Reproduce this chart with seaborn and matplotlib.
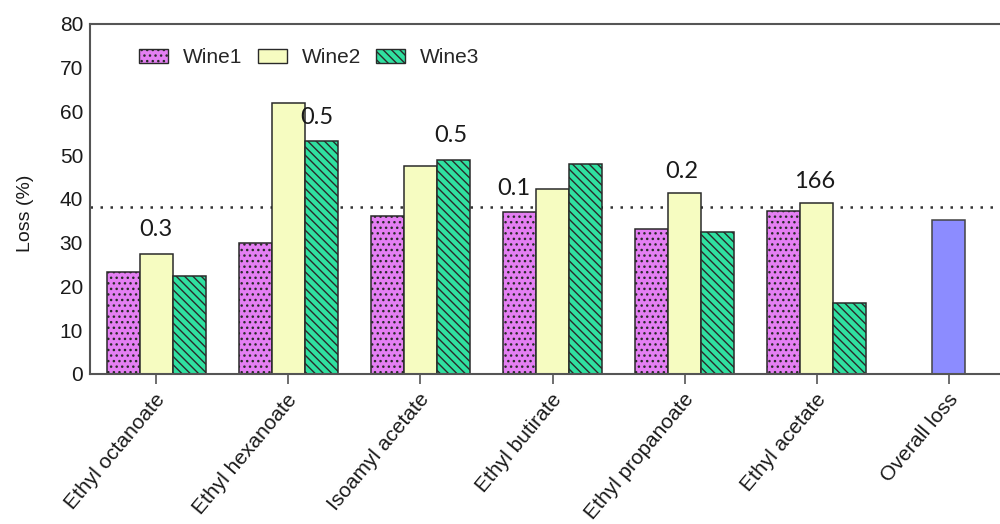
import matplotlib
matplotlib.use("Agg")
import matplotlib.pyplot as plt
import matplotlib.transforms as mtransforms
from matplotlib.patches import Patch
import numpy as np
import pandas as pd
import seaborn as sns

# Compounds and per-wine losses (%)
compounds = ["Ethyl octanoate", "Ethyl hexanoate", "Isoamyl acetate",
             "Ethyl butirate", "Ethyl propanoate", "Ethyl acetate"]
overall_label = "Overall loss"
wine1 = [23.4, 30.0, 36.0, 37.0, 33.1, 37.3]
wine2 = [27.4, 61.9, 47.6, 42.2, 41.4, 39.0]
wine3 = [22.3, 53.2, 48.9, 47.9, 32.4, 16.2]
overall = [35.1]
reference_level = 38.1

# Numbers written above the groups
note_text = ["0.3", "0.5", "0.5", "0.1", "0.2", "166"]
note_x = [0.0, 1.22, 2.23, 2.71, 3.98, 4.98]
note_y = [33.1, 58.7, 54.6, 42.5, 46.2, 44.1]

wines = ["Wine1", "Wine2", "Wine3"]
colors = ["#e47ff3", "#f6fcc1", "#30e0a0"]
hatches = ["...", "", "\\\\\\\\"]
overall_color = "#8c8cff"
order = compounds + [overall_label]

df = pd.DataFrame({
    "compound": compounds * 3,
    "wine": np.repeat(wines, len(compounds)),
    "loss": wine1 + wine2 + wine3,
})
df_overall = pd.DataFrame({"compound": [overall_label], "loss": overall})

sns.set_style("white")
plt.rcParams["font.family"] = ["Liberation Sans", "DejaVu Sans"]
plt.rcParams["hatch.linewidth"] = 1.0

fig = plt.figure(figsize=(10, 5.24), dpi=100)
ax = fig.add_axes([0.09, 0.2863, 0.925, 0.668])

sns.barplot(data=df, x="compound", y="loss", hue="wine", order=order,
            hue_order=wines, palette=colors, saturation=1, width=0.75, gap=0,
            edgecolor="#2a2a2a", linewidth=1.1, legend=False, ax=ax)

# apply hatches per wine
for cont, h in zip(ax.containers, hatches):
    for bar in cont:
        bar.set_hatch(h)

sns.barplot(data=df_overall, x="compound", y="loss", order=order,
            color=overall_color, saturation=1, width=0.25, edgecolor="#444444",
            linewidth=1.1, ax=ax)

ax.axhline(reference_level, color="#333333", lw=1.8, ls=(0, (1, 3)), zorder=0.5)

for t, x, y in zip(note_text, note_x, note_y):
    ax.text(x, y, t, ha="center", va="center", fontsize=17,
            family=["Lato", "DejaVu Sans"], color="#1a1a1a")

ax.set_ylim(0, 80)
ax.set_xlim(-0.5, len(order) - 0.5)
ax.set_yticks(range(0, 81, 10))
ax.set_xlabel("")
ax.set_ylabel("Loss (%)", fontsize=14, color="#1a1a1a")
ax.yaxis.set_label_coords(-0.06, 0.46)

ax.tick_params(axis="y", labelsize=15, length=3, width=1.2, color="#555555",
               labelcolor="#1a1a1a", pad=2)
ax.tick_params(axis="x", labelsize=15, length=7, width=1.2, color="#555555",
               labelcolor="#1a1a1a", pad=9, bottom=True)
shift = mtransforms.ScaledTranslation(4 / 72, 0, fig.dpi_scale_trans)
for lab in ax.get_xticklabels():
    lab.set_rotation(50)
    lab.set_ha("right")
    lab.set_va("center")
    lab.set_rotation_mode("anchor")
    lab.set_transform(lab.get_transform() + shift)

for side in ["left", "bottom", "top", "right"]:
    ax.spines[side].set_visible(True)
    ax.spines[side].set_color("#555555")
    ax.spines[side].set_linewidth(1.5)

handles = [Patch(facecolor=c, edgecolor="#2a2a2a", hatch=h, linewidth=1.0, label=w)
           for c, h, w in zip(colors, hatches, wines)]
ax.legend(handles=handles, loc="center left", bbox_to_anchor=(0.053, 0.903),
          ncol=3, frameon=False, fontsize=15, handlelength=1.4,
          handleheight=0.63, handletextpad=0.72, columnspacing=0.72,
          borderpad=0, borderaxespad=0)

fig.savefig("out.png", dpi=100)
